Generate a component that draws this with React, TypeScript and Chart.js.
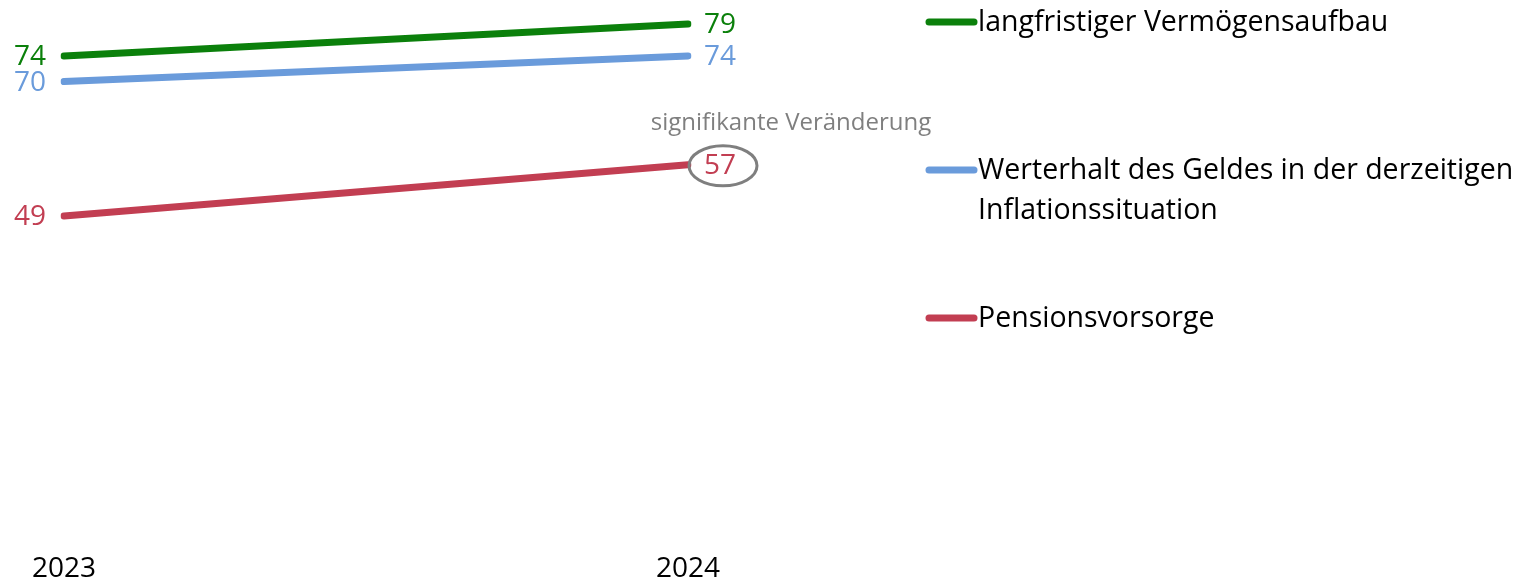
import React, { useEffect, useRef } from "react";
import { Chart, registerables } from "chart.js";

Chart.register(...registerables);

const years = ["2023", "2024"];
const seriesNames = [
  "langfristiger Vermögensaufbau",
  "Werterhalt des Geldes in der derzeitigen Inflationssituation",
  "Pensionsvorsorge",
];
const vermoegen = [74, 79];
const werterhalt = [70, 74];
const pension = [49, 57];
const legendLines = [
  ["langfristiger Vermögensaufbau"],
  ["Werterhalt des Geldes in der derzeitigen", "Inflationssituation"],
  ["Pensionsvorsorge"],
];
const annotationText = "signifikante Veränderung";

const COLORS = ["#0b800b", "#6a9bdb", "#c23e52"];
const FONT = "'Open Sans', 'Noto Sans', sans-serif";

export default function App() {
  const ref = useRef<HTMLCanvasElement>(null);
  useEffect(() => {
    document.body.style.margin = "0";
    const labelPlugin = {
      id: "customDraw",
      afterDatasetsDraw(chart: any) {
        const ctx = chart.ctx;
        ctx.save();
        ctx.textBaseline = "middle";
        ctx.font = `28px ${FONT}`;
        chart.data.datasets.forEach((ds: any, i: number) => {
          const meta = chart.getDatasetMeta(i);
          meta.data.forEach((pt: any, j: number) => {
            ctx.fillStyle = COLORS[i];
            if (j === 0) {
              ctx.textAlign = "right";
              ctx.fillText(String(ds.data[j]), pt.x - 18, pt.y + 1);
            } else {
              ctx.textAlign = "left";
              ctx.fillText(String(ds.data[j]), pt.x + 16, pt.y + 1);
            }
          });
        });
        // significance annotation on Pensionsvorsorge 2024
        const p = chart.getDatasetMeta(2).data[1];
        const cx = p.x + 35;
        const cy = p.y + 1;
        ctx.strokeStyle = "#7f7f7f";
        ctx.lineWidth = 3;
        ctx.beginPath();
        ctx.ellipse(cx, cy, 34, 20, 0, 0, Math.PI * 2);
        ctx.stroke();
        ctx.fillStyle = "#7f7f7f";
        ctx.textAlign = "center";
        ctx.font = `24px ${FONT}`;
        ctx.fillText(annotationText, p.x + 103, p.y - 42);

        // legend
        const legendY = [22, 170, 318];
        ctx.font = `28.5px ${FONT}`;
        ctx.textAlign = "left";
        legendLines.forEach((lines, i) => {
          const y = legendY[i];
          ctx.strokeStyle = COLORS[i];
          ctx.lineWidth = 7;
          ctx.lineCap = "round";
          ctx.beginPath();
          ctx.moveTo(929, y);
          ctx.lineTo(974, y);
          ctx.stroke();
          ctx.fillStyle = "#000000";
          lines.forEach((t, k) => {
            ctx.fillText(t, 978, y + 1 + k * 40);
          });
        });
        ctx.restore();
      },
    };
    const chart = new Chart(ref.current!, {
      type: "line",
      data: {
        labels: years,
        datasets: [
          { label: seriesNames[0], data: vermoegen, borderColor: COLORS[0], backgroundColor: COLORS[0] },
          { label: seriesNames[1], data: werterhalt, borderColor: COLORS[1], backgroundColor: COLORS[1] },
          { label: seriesNames[2], data: pension, borderColor: COLORS[2], backgroundColor: COLORS[2] },
        ].map((d) => ({ ...d, borderWidth: 7, pointRadius: 0, borderCapStyle: "round", tension: 0 })),
      },
      options: {
        animation: false,
        responsive: false,
        layout: { padding: { left: 64, right: 835, top: 17.6, bottom: 0 } },
        plugins: { legend: { display: false }, tooltip: { enabled: false } },
        scales: {
          x: {
            offset: false,
            grid: { display: false, drawTicks: false },
            border: { display: false },
            ticks: { font: { size: 28, family: FONT }, color: "#000000", padding: 23, maxRotation: 0 },
            afterFit(scale: any) {
              scale.height = 52.4;
            },
          },
          y: {
            display: false,
            min: 0,
            max: 80,
          },
        },
      },
      plugins: [labelPlugin],
    } as any);
    return () => chart.destroy();
  }, []);
  return (
    <div style={{ width: 1523, height: 582 }}>
      <canvas ref={ref} width={1523} height={582} style={{ display: "block" }} />
    </div>
  );
}
